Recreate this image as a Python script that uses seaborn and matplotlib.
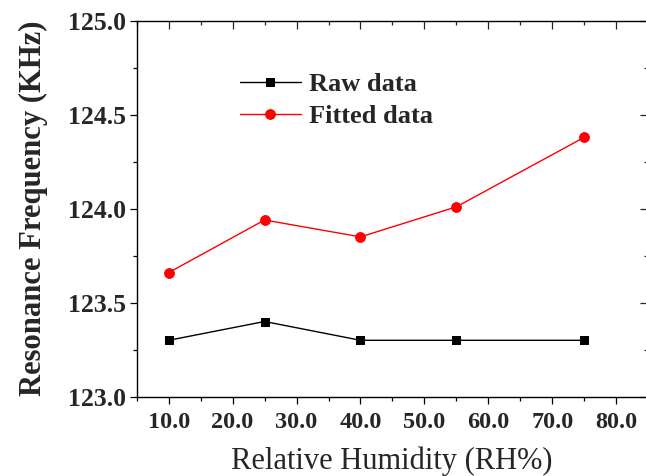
import matplotlib
matplotlib.use("Agg")
import matplotlib.pyplot as plt
import seaborn as sns
import pandas as pd
from matplotlib.ticker import MultipleLocator, FormatStrFormatter

humidity = [10, 25, 40, 55, 75]
raw_data = [123.30, 123.40, 123.30, 123.30, 123.30]
fitted_data = [123.66, 123.94, 123.85, 124.01, 124.38]
series_names = ["Raw data", "Fitted data"]
x_label = "Relative Humidity (RH%)"
y_label = "Resonance Frequency (KHz)"

sns.set_style("ticks")
plt.rcParams["font.family"] = ["Liberation Serif", "DejaVu Serif"]

fig = plt.figure(figsize=(6.46, 4.76), dpi=100)
ax = fig.add_axes([136.7 / 646, 1 - 396.7 / 476, 510.9 / 646, 376.0 / 476])

df_raw = pd.DataFrame({"x": humidity, "y": raw_data})
df_fit = pd.DataFrame({"x": humidity, "y": fitted_data})

sns.lineplot(data=df_raw, x="x", y="y", ax=ax, color="black", linewidth=1.0,
             marker="s", markersize=6.0, markeredgecolor="black",
             label=series_names[0])
sns.lineplot(data=df_fit, x="x", y="y", ax=ax, color="#ff0000", linewidth=1.0,
             marker="o", markersize=7.0, markeredgecolor="#ff0000",
             label=series_names[1])

ax.set_xlim(5, 84.9)
ax.set_ylim(123.0, 125.0)
ax.xaxis.set_major_locator(MultipleLocator(10))
ax.xaxis.set_minor_locator(MultipleLocator(5))
ax.yaxis.set_major_locator(MultipleLocator(0.5))
ax.yaxis.set_minor_locator(MultipleLocator(0.25))
ax.xaxis.set_major_formatter(FormatStrFormatter("%.1f"))
ax.yaxis.set_major_formatter(FormatStrFormatter("%.1f"))

for s in ax.spines.values():
    s.set_visible(True)
    s.set_linewidth(1.0)
    s.set_color("black")

ax.tick_params(axis="both", which="both", color="black", width=0.9)
ax.tick_params(axis="x", which="major", direction="out", length=5, pad=6,
               labelsize=17.5)
ax.tick_params(axis="x", which="minor", direction="out", length=3)
ax.tick_params(axis="y", which="major", direction="out", length=5, pad=3,
               labelsize=18.5)
ax.tick_params(axis="y", which="minor", direction="out", length=3)

for lab in ax.get_xticklabels() + ax.get_yticklabels():
    lab.set_fontweight("bold")

# Mirror ticks on top and right, pointing inward
sec_top = ax.secondary_xaxis("top")
sec_top.xaxis.set_major_locator(MultipleLocator(10))
sec_top.xaxis.set_minor_locator(MultipleLocator(5))
sec_top.tick_params(which="major", direction="in", length=6, width=0.9, labeltop=False)
sec_top.tick_params(which="minor", direction="in", length=3, width=0.9)
sec_top.spines["top"].set_visible(False)
sec_right = ax.secondary_yaxis("right")
sec_right.yaxis.set_major_locator(MultipleLocator(0.5))
sec_right.yaxis.set_minor_locator(MultipleLocator(0.25))
sec_right.tick_params(which="major", direction="in", length=6, width=0.9, labelright=False)
sec_right.tick_params(which="minor", direction="in", length=3, width=0.9)

ax.set_xlabel(x_label, fontsize=22, labelpad=10)
ax.set_ylabel(y_label, fontsize=22.1, fontweight="bold", labelpad=14)

leg = ax.legend(loc="upper left", bbox_to_anchor=(0.202, 0.861), frameon=False,
                prop={"weight": "bold", "size": 19}, handlelength=2.3,
                handletextpad=0.3, labelspacing=0.3, borderpad=0,
                borderaxespad=0)

fig.savefig("out.png", dpi=100)
